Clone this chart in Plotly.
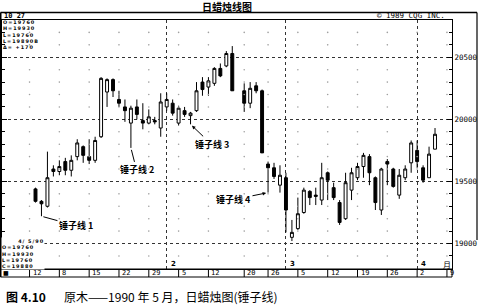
import numpy as np
import plotly.graph_objects as go

# ---------------- data ----------------
dates = ["1990-01-02", "1990-01-03", "1990-01-04", "1990-01-05",
         "1990-01-08", "1990-01-09", "1990-01-10", "1990-01-11", "1990-01-12",
         "1990-01-15", "1990-01-16", "1990-01-17", "1990-01-18", "1990-01-19",
         "1990-01-22", "1990-01-23", "1990-01-24", "1990-01-25", "1990-01-26",
         "1990-01-29", "1990-01-30", "1990-01-31", "1990-02-01", "1990-02-02",
         "1990-02-05", "1990-02-06", "1990-02-07", "1990-02-08", "1990-02-09",
         "1990-02-12", "1990-02-13", "1990-02-14", "1990-02-15", "1990-02-16",
         "1990-02-20", "1990-02-21", "1990-02-22", "1990-02-23",
         "1990-02-26", "1990-02-27", "1990-02-28", "1990-03-01", "1990-03-02",
         "1990-03-05", "1990-03-06", "1990-03-07", "1990-03-08", "1990-03-09",
         "1990-03-12", "1990-03-13", "1990-03-14", "1990-03-15", "1990-03-16",
         "1990-03-19", "1990-03-20", "1990-03-21", "1990-03-22", "1990-03-23",
         "1990-03-26", "1990-03-27", "1990-03-28", "1990-03-29", "1990-03-30",
         "1990-04-02", "1990-04-03", "1990-04-04", "1990-04-05"]

opens = [19440, 19340, 19300, 19600,
         19580, 19660, 19590, 19700, 19780,
         19700, 19670, 19860, 20220, 20320,
         20160, 20100, 19970, 20100, 19990,
         19970, 19990, 19930, 20100, 20130,
         19970, 20070, 20030, 20070, 20300,
         20260, 20290, 20410, 20430, 20530,
         20230, 20130, 20270, 20230,
         19640, 19610, 19470, 19530, 19050,
         19120, 19250, 19420, 19390, 19350,
         19570, 19450, 19330, 19200, 19430,
         19530, 19620, 19700, 19530, 19270,
         19660, 19600, 19390, 19530, 19650,
         19750, 19610, 19530, 19760]

highs = [19450, 19350, 19740, 19630,
         19670, 19690, 19710, 19840, 19790,
         19840, 19860, 20340, 20330, 20330,
         20230, 20160, 20110, 20160, 20130,
         20080, 20020, 20210, 20210, 20160,
         20110, 20100, 20060, 20300, 20340,
         20340, 20420, 20450, 20550, 20590,
         20290, 20300, 20300, 20240,
         19660, 19650, 19630, 19570, 19190,
         19370, 19450, 19430, 19450, 19650,
         19580, 19490, 19350, 19570, 19610,
         19650, 19730, 19720, 19540, 19610,
         19680, 19610, 19600, 19630, 19830,
         19830, 19630, 19780, 19930]

lows = [19330, 19220, 19290, 19540,
        19550, 19550, 19540, 19670, 19650,
        19640, 19650, 19850, 20100, 20180,
        20100, 19980, 19770, 20000, 19920,
        19960, 19960, 19860, 20070, 20030,
        19950, 20020, 19960, 20060, 20190,
        20190, 20270, 20340, 20420, 20230,
        20060, 20090, 20210, 19730,
        19410, 19520, 19410, 19090, 19020,
        19110, 19240, 19310, 19310, 19310,
        19350, 19350, 19150, 19190, 19350,
        19510, 19530, 19470, 19270, 19230,
        19470, 19450, 19360, 19510, 19570,
        19610, 19490, 19530, 19760]

closes = [19340, 19320, 19530, 19580,
          19620, 19590, 19670, 19810, 19710,
          19670, 19830, 20330, 20320, 20230,
          20130, 20070, 20090, 20040, 19970,
          20020, 19980, 20140, 20160, 20050,
          20090, 20040, 20050, 20230, 20240,
          20310, 20410, 20350, 20530, 20230,
          20130, 20250, 20230, 19730,
          19610, 19540, 19550, 19270, 19090,
          19240, 19430, 19370, 19380, 19530,
          19510, 19370, 19170, 19490, 19570,
          19620, 19710, 19570, 19330, 19600,
          19640, 19460, 19550, 19600, 19810,
          19660, 19510, 19720, 19880]

week_dates = ["1990-01-01", "1990-01-08", "1990-01-15", "1990-01-22", "1990-01-29",
              "1990-02-05", "1990-02-12", "1990-02-20", "1990-02-26",
              "1990-03-05", "1990-03-12", "1990-03-19", "1990-03-26",
              "1990-04-02", "1990-04-09"]
week_labels = ["12", "8", "15", "22", "29", "5", "12", "20", "26",
               "5", "12", "19", "26", "2", "9"]

month_starts = ["1990-02-01", "1990-03-01", "1990-04-02"]
month_labels = ["2", "3", "4"]

y_ticks = [19000, 19500, 20000, 20500]
y_ticktext = ["19000", "19500", "20000", "20500"]

hammers = [("1990-01-03", "锤子线 1"), ("1990-01-24", "锤子线 2"),
           ("1990-02-07", "锤子线 3"), ("1990-02-26", "锤子线 4")]

header_top = ["O=19760", "H=19930", "L=19760", "L=19890B", "Δ= +170"]
last_date_label = "4/ 5/90"
header_bottom = ["O=19760", "H=19930", "L=19760", "C=19880"]

# ---------------- helpers ----------------
BASE = np.datetime64("1990-01-02")


def bx(d):
    return int(np.busday_count(BASE, np.datetime64(d)))


xs = [bx(d) for d in dates]
low_of = dict(zip(dates, lows))

W, H = 480, 305
L_PX, R_PX, T_PX, B_PX = 2, 452, 20, 269
PW, PH = R_PX - L_PX, B_PX - T_PX


def P(px, py):
    return (px - L_PX) / PW, (B_PX - py) / PH


MONO = "DejaVu Sans Mono"
SANS = "DejaVu Sans"
CJK = "Noto Sans CJK SC"

fig = go.Figure()

# faint dot grid (weekly columns x 100-unit rows)
levels = [v for v in range(18900, 20800, 100) if v % 500 != 0]
gx, gy = np.meshgrid([bx(d) for d in week_dates], levels)
fig.add_trace(go.Scatter(x=gx.ravel(), y=gy.ravel(), mode="markers",
                         marker=dict(size=1.6, color="#a0a0a0"),
                         hoverinfo="skip", showlegend=False))

fig.add_trace(go.Candlestick(
    x=xs, open=opens, high=highs, low=lows, close=closes,
    increasing=dict(line=dict(color="black", width=1), fillcolor="white"),
    decreasing=dict(line=dict(color="black", width=1), fillcolor="black"),
    whiskerwidth=0, showlegend=False, hoverinfo="skip"))

shapes = []
ann = []

# outer frame lines
x0, y0 = P(0.5, 12.5)
x1, _ = P(477, 12.5)
shapes.append(dict(type="line", xref="paper", yref="paper", x0=x0, x1=x1, y0=y0, y1=y0,
                   line=dict(color="black", width=1.5)))
_, yb = P(0, 277)
shapes.append(dict(type="line", xref="paper", yref="paper", x0=x0, x1=x0, y0=y0, y1=yb,
                   line=dict(color="black", width=2)))
_, yr = P(0, 240)
shapes.append(dict(type="line", xref="paper", yref="paper", x0=x1, x1=x1, y0=y0, y1=yr,
                   line=dict(color="black", width=1.2)))
# date strip
shapes.append(dict(type="rect", xref="paper", yref="paper", x0=x0, x1=1, y0=yb, y1=0,
                   line=dict(color="black", width=1)))
for d in week_dates:
    shapes.append(dict(type="line", xref="x", yref="paper", x0=bx(d), x1=bx(d), y0=yb, y1=0,
                       line=dict(color="black", width=1)))

_, ys = P(0, 272.8)
for d, lab in zip(week_dates, week_labels):
    ann.append(dict(x=bx(d), y=ys, xref="x", yref="paper", text=lab, showarrow=False,
                    xanchor="left", yanchor="middle", xshift=1,
                    font=dict(family=MONO, size=7, color="black")))
xa, _ = P(5.5, 0)
ann.append(dict(x=xa, y=ys, xref="paper", yref="paper", text="■", showarrow=False,
                xanchor="center", yanchor="middle", font=dict(family=SANS, size=6, color="black")))

# month markers
_, ym = P(0, 264)
for d, lab in zip(month_starts, month_labels):
    ann.append(dict(x=bx(d), y=ym, xref="x", yref="paper", text="<b>" + lab + "</b>",
                    showarrow=False, xanchor="left", yanchor="middle", xshift=2,
                    font=dict(family=SANS, size=7, color="black")))
ann.append(dict(x=bx("1990-04-09"), y=ym, xref="x", yref="paper", text="月",
                showarrow=False, xanchor="center", yanchor="middle",
                font=dict(family=CJK, size=8, color="black")))

# title and header texts
tx, ty = P(227, 6.5)
ann.append(dict(x=tx, y=ty, xref="paper", yref="paper", text="<b>日蜡烛线图</b>",
                showarrow=False, xanchor="center", yanchor="middle",
                font=dict(family=CJK, size=10, color="black")))
hx, hy = P(2, 15.8)
ann.append(dict(x=hx, y=hy, xref="paper", yref="paper", text="<b>10 27</b>",
                showarrow=False, xanchor="left", yanchor="middle",
                font=dict(family=MONO, size=7, color="black")))
cx, cy = P(375, 15.8)
ann.append(dict(x=cx, y=cy, xref="paper", yref="paper", text="© 1989 CQG INC.",
                showarrow=False, xanchor="left", yanchor="middle",
                font=dict(family=MONO, size=7.5, color="black")))


def block(lines):
    sp = '<span style="letter-spacing:1px">'
    return "<br>".join(sp + "<b>" + t + "</b></span>" for t in lines)


lx, ly = P(1.5, 34.5)
ann.append(dict(x=lx, y=ly, xref="paper", yref="paper", text=block(header_top),
                showarrow=False, xanchor="left", yanchor="middle", align="left",
                borderpad=0, font=dict(family=SANS, size=4.9, color="black")))
lx, ly = P(1, 253.5)
ann.append(dict(x=lx, y=ly, xref="paper", yref="paper",
                text=block(["&nbsp;" * 6 + last_date_label] + header_bottom),
                showarrow=False, xanchor="left", yanchor="middle", align="left",
                borderpad=0, bgcolor="white",
                font=dict(family=SANS, size=4.9, color="black")))

# hammer callouts
offsets = [(34.5, 9.5, 0), (5.6, 22, 0), (21, 20, 2), (-34.6, 7, 2)]
for (d, lab), (ax, ay, head) in zip(hammers, offsets):
    ann.append(dict(x=bx(d), y=low_of[d], xref="x", yref="y", text="<b>" + lab + "</b>",
                    showarrow=True, ax=ax, ay=ay, arrowhead=head, arrowsize=0.7,
                    arrowwidth=1, arrowcolor="black", standoff=2,
                    font=dict(family=CJK, size=9, color="black")))

# caption
fx, fy = P(4, 296)
ann.append(dict(x=fx, y=fy, xref="paper", yref="paper", text="<b>图&nbsp;4.10</b>",
                showarrow=False, xanchor="left", yanchor="middle",
                font=dict(family=CJK, size=12, color="black")))
gx2, _ = P(62, 296)
ann.append(dict(x=gx2, y=fy, xref="paper", yref="paper",
                text="原木——1990 年 5 月，日蜡烛图(锤子线)",
                showarrow=False, xanchor="left", yanchor="middle",
                font=dict(family=CJK, size=12, color="black")))

x_lo = (L_PX - 35.5) / 5.963
x_hi = (R_PX - 35.5) / 5.963

fig.update_layout(
    width=W, height=H,
    margin=dict(l=L_PX, r=W - R_PX, t=T_PX, b=H - B_PX),
    paper_bgcolor="white", plot_bgcolor="white",
    shapes=shapes, annotations=ann, showlegend=False,
    xaxis=dict(range=[x_lo, x_hi], rangeslider=dict(visible=False),
               tickvals=[bx(d) for d in month_starts], showticklabels=False, ticks="",
               showgrid=True, gridcolor="#333", griddash="dot", gridwidth=1,
               showline=True, linecolor="black", linewidth=1, mirror=True, zeroline=False),
    yaxis=dict(range=[18795, 20800], side="right",
               tickvals=y_ticks, ticktext=y_ticktext, ticks="inside", ticklen=5,
               tickcolor="black", tickwidth=1,
               minor=dict(dtick=100, tick0=0, ticks="inside", ticklen=3,
                          tickcolor="black", showgrid=False),
               showgrid=True, gridcolor="#333", griddash="dot", gridwidth=1,
               showline=True, linecolor="black", linewidth=1, mirror="ticks",
               zeroline=False,
               tickfont=dict(family=MONO, size=7.5, color="black")),
)

fig.write_html("out.html")
